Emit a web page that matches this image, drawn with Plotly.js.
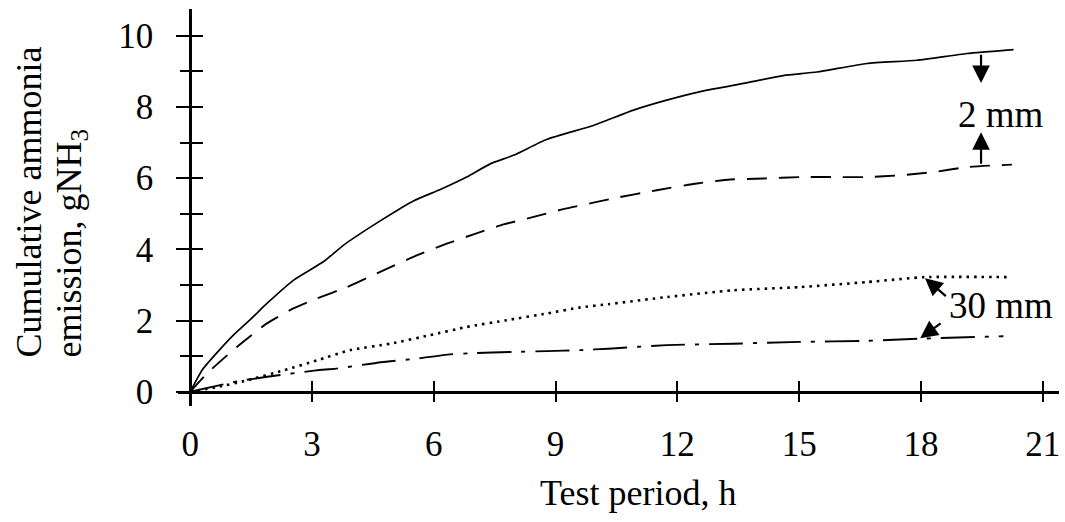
<!DOCTYPE html>
<html>
<head>
<meta charset="utf-8">
<script src="https://cdn.plot.ly/plotly-3.0.1.min.js"></script>
<style>html,body{margin:0;padding:0;background:#fff;}#chart{width:1065px;height:522px;}</style>
</head>
<body>
<div id="chart"></div>
<script>
// Data (time in h, cumulative emission in g NH3)
const solidX = [0, 0.3, 0.7, 1.07, 1.5, 1.89, 2.54, 3.28, 3.78, 4.68, 5.50, 6.16, 6.81, 7.39, 7.96, 8.79, 9.93, 10.92, 11.74, 12.73, 13.63, 14.61, 15.44, 16.67, 17.90, 19.13, 20.28];
const solidY = [0, 0.62, 1.15, 1.60, 2.05, 2.48, 3.13, 3.65, 4.12, 4.80, 5.36, 5.68, 6.03, 6.40, 6.64, 7.09, 7.48, 7.91, 8.19, 8.47, 8.66, 8.88, 8.98, 9.22, 9.31, 9.50, 9.61];

const dashX = [0, 0.41, 1.15, 1.89, 2.54, 3.12, 3.86, 4.68, 5.58, 6.32, 6.98, 7.72, 8.46, 9.19, 9.93, 10.51, 11.49, 12.48, 13.30, 14.12, 15.02, 15.84, 16.67, 17.49, 18.31, 19.13, 20.24];
const dashY = [0, 0.51, 1.26, 1.92, 2.34, 2.62, 2.94, 3.37, 3.83, 4.16, 4.42, 4.70, 4.91, 5.13, 5.31, 5.45, 5.66, 5.85, 5.96, 5.99, 6.03, 6.03, 6.03, 6.08, 6.17, 6.31, 6.38];

const dotX = [0, 0.66, 1.40, 2.30, 3.12, 3.94, 4.93, 5.91, 6.81, 7.80, 8.79, 9.61, 10.30, 11.74, 13.38, 15.02, 16.67, 18.10, 20.16];
const dotY = [0, 0.13, 0.32, 0.60, 0.88, 1.17, 1.35, 1.59, 1.82, 2.01, 2.20, 2.37, 2.46, 2.66, 2.85, 2.94, 3.08, 3.22, 3.22];

const dashDotX = [0, 1.2, 1.9, 3.1, 3.6, 4.7, 5.5, 6.4, 6.9, 7.96, 8.79, 9.61, 10.30, 11.74, 13.38, 15.02, 16.67, 17.98, 20.03];
const dashDotY = [0, 0.30, 0.42, 0.60, 0.65, 0.83, 0.92, 1.05, 1.08, 1.12, 1.14, 1.17, 1.21, 1.31, 1.35, 1.40, 1.43, 1.49, 1.56];

const xTicks = [0, 3, 6, 9, 12, 15, 18, 21];
const yTicks = [0, 2, 4, 6, 8, 10];

const labels = {
  x: 'Test period, h',
  y1: 'Cumulative ammonia',
  y2: 'emission, gNH<sub>3</sub>',
  thin: '2 mm',
  thick: '30 mm'
};

const FONT = 'Liberation Serif, Times New Roman, serif';
const xRange = [-0.3, 21.4];
const yRange = [-0.4, 10.75];
const xPos = (0 - yRange[0]) / (yRange[1] - yRange[0]);
const yPos = (0 - xRange[0]) / (xRange[1] - xRange[0]);

const traces = [
  {x: solidX, y: solidY, mode: 'lines', line: {color: '#000', width: 1.7, shape: 'spline', smoothing: 0.5}, name: '2 mm, upper'},
  {x: dashX, y: dashY, mode: 'lines', line: {color: '#000', width: 1.9, dash: '20px,12px', shape: 'spline', smoothing: 0.5}, name: '2 mm, lower'},
  {x: dotX, y: dotY, mode: 'lines', line: {color: '#000', width: 2.6, dash: '2.5px,5px', shape: 'spline', smoothing: 0.5}, name: '30 mm, upper'},
  {x: dashDotX, y: dashDotY, mode: 'lines', line: {color: '#000', width: 1.9, dash: '34px,10px,4px,10px', shape: 'spline', smoothing: 0.5}, name: '30 mm, lower'},
  {x: [], y: [], xaxis: 'x2', yaxis: 'y2', showlegend: false, hoverinfo: 'skip'}
];

const baseAxis = {
  showgrid: false, zeroline: false, showline: true, linecolor: '#000', linewidth: 3,
  tickcolor: '#000', tickwidth: 2, anchor: 'free'
};

const arrow = {xref: 'x', yref: 'y', axref: 'x', ayref: 'y', text: '', showarrow: true,
  arrowhead: 2, arrowsize: 1.6, arrowwidth: 2.2, arrowcolor: '#000'};

const layout = {
  width: 1065, height: 522,
  margin: {l: 178, r: 6, t: 9, b: 116},
  paper_bgcolor: '#fff', plot_bgcolor: '#fff',
  showlegend: false,
  font: {family: FONT, color: '#000', size: 34},
  xaxis: Object.assign({}, baseAxis, {
    range: xRange, position: xPos, tickmode: 'array', tickvals: xTicks, ticktext: xTicks.map(String),
    ticks: 'outside', ticklen: 8, ticklabelstandoff: 12, tickfont: {family: FONT, size: 35, color: '#000'}
  }),
  yaxis: Object.assign({}, baseAxis, {
    range: yRange, position: yPos, tickmode: 'array', tickvals: yTicks, ticktext: yTicks.map(String),
    ticks: 'outside', ticklen: 13, ticklabelstandoff: 16, tickfont: {family: FONT, size: 35, color: '#000'},
    minor: {tickmode: 'linear', tick0: 1, dtick: 2, ticks: 'outside', ticklen: 9, tickwidth: 2, tickcolor: '#000'}
  }),
  xaxis2: Object.assign({}, baseAxis, {
    range: xRange, overlaying: 'x', position: xPos, tickmode: 'array', tickvals: xTicks,
    ticks: 'inside', ticklen: 10, showticklabels: false
  }),
  yaxis2: Object.assign({}, baseAxis, {
    range: yRange, overlaying: 'y', position: yPos, tickmode: 'linear', tick0: 0, dtick: 1,
    ticks: 'inside', ticklen: 11, showticklabels: false
  }),
  annotations: [
    {xref: 'paper', yref: 'paper', x: 0.522, y: -0.219, text: labels.x, showarrow: false,
     xanchor: 'center', yanchor: 'middle', font: {family: FONT, size: 36, color: '#000'}},
    {xref: 'paper', yref: 'paper', x: (28 - 178) / 881, y: (406 - 360) / 397, text: labels.y1, showarrow: false, textangle: -90,
     xanchor: 'center', yanchor: 'bottom', font: {family: FONT, size: 36, color: '#000'}},
    {xref: 'paper', yref: 'paper', x: (71 - 178) / 881, y: (406 - 360) / 397, text: labels.y2, showarrow: false, textangle: -90,
     xanchor: 'center', yanchor: 'bottom', font: {family: FONT, size: 36, color: '#000'}},
    {xref: 'x', yref: 'y', x: 19.98, y: 7.78, text: labels.thin, showarrow: false,
     xanchor: 'center', yanchor: 'middle', font: {family: FONT, size: 37, color: '#000'}},
    {xref: 'x', yref: 'y', x: 19.96, y: 2.43, text: labels.thick, showarrow: false,
     xanchor: 'center', yanchor: 'middle', font: {family: FONT, size: 37, color: '#000'}},
    Object.assign({}, arrow, {x: 19.48, y: 8.67, ax: 19.48, ay: 9.51}),
    Object.assign({}, arrow, {x: 19.48, y: 7.29, ax: 19.48, ay: 6.36}),
    Object.assign({}, arrow, {x: 18.10, y: 3.19, ax: 18.65, ay: 2.65}),
    Object.assign({}, arrow, {x: 17.98, y: 1.50, ax: 18.52, ay: 1.95})
  ]
};

Plotly.newPlot('chart', traces, layout, {staticPlot: true, displayModeBar: false});
</script>
</body>
</html>
